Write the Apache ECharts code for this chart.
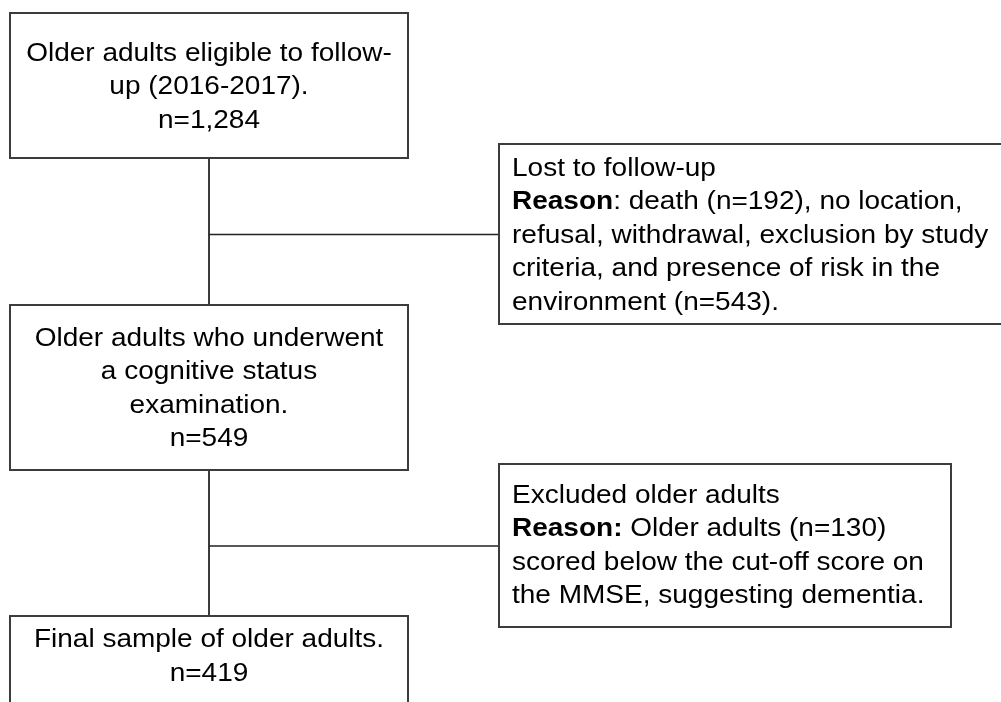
<!DOCTYPE html>
<html><head><meta charset="utf-8">
<script src="https://cdn.jsdelivr.net/npm/echarts@6/dist/echarts.min.js"></script>
<style>html,body{margin:0;padding:0;background:#fff}#c{width:1001px;height:702px}</style>
</head><body><div id="c"></div><script>
// ---- content ----
const stageLabels = [
  'Older adults eligible to follow-\nup (2016-2017).',
  'Older adults who underwent\na cognitive status\nexamination.',
  'Final sample of older adults.'
];
const stageCounts = [1284, 549, 419];
const exclusionTitles = ['Lost to follow-up', 'Excluded older adults'];
const exclusionLeads = ['Reason', 'Reason:'];
const exclusionDetails = [
  ': death (n=192), no location,\nrefusal, withdrawal, exclusion by study\ncriteria, and presence of risk in the\nenvironment (n=543).',
  ' Older adults (n=130)\nscored below the cut-off score on\nthe MMSE, suggesting dementia.'
];

// ---- layout (axis units = pixels) ----
const stageBoxes = [[10, 13, 408, 158], [10, 305, 408, 470], [10, 616, 408, 760]];
const stageTextY = [87.5, 389, 657];
const exclusionBoxes = [[499, 144, 1010, 324], [499, 464, 951, 627]];
const exclusionTextY = [236, 546];
const textLeftPad = 13;
const trunkX = 209;
const trunkSegments = [[158, 305], [470, 616]];
const branchY = [234.5, 546];

const FONT = '"Liberation Sans", Arial, Helvetica, sans-serif';
const FS = 25, LH = 33.4, SX = 1.12;
const STROKE = '#3c3c3c';

const boxData = [];
stageBoxes.forEach((b, i) => boxData.push([b[0], b[1], b[2], b[3], 0, i, stageTextY[i]]));
exclusionBoxes.forEach((b, i) => boxData.push([b[0], b[1], b[2], b[3], 1, i, exclusionTextY[i]]));

const lineData = [];
trunkSegments.forEach(s => lineData.push([trunkX, s[0], trunkX, s[1], 0]));
branchY.forEach((y, i) => lineData.push([trunkX, y, exclusionBoxes[i][0], y, 1]));

function renderBox(params, api) {
  const p1 = api.coord([api.value(0), api.value(1)]);
  const p2 = api.coord([api.value(2), api.value(3)]);
  const kind = api.value(4), idx = api.value(5);
  const ty = api.coord([0, api.value(6)])[1];
  const children = [{
    type: 'rect',
    shape: { x: p1[0], y: p1[1], width: p2[0] - p1[0], height: p2[1] - p1[1] },
    style: { fill: '#fff', stroke: STROKE, lineWidth: 2 }
  }];
  if (kind === 0) {
    children.push({
      type: 'text', x: (p1[0] + p2[0]) / 2, y: ty, scaleX: SX,
      style: {
        text: stageLabels[idx] + '\nn=' + stageCounts[idx].toLocaleString('en-US'),
        align: 'center', verticalAlign: 'middle',
        fontSize: FS, fontFamily: FONT, lineHeight: LH, fill: '#000'
      }
    });
  } else {
    children.push({
      type: 'text', x: p1[0] + textLeftPad, y: ty, scaleX: SX,
      style: {
        text: exclusionTitles[idx] + '\n{b|' + exclusionLeads[idx] + '}' + exclusionDetails[idx],
        align: 'left', verticalAlign: 'middle',
        fontSize: FS, fontFamily: FONT, lineHeight: LH, fill: '#000',
        rich: { b: { fontWeight: 'bold', fontSize: FS, fontFamily: FONT, lineHeight: LH, fill: '#000' } }
      }
    });
  }
  return { type: 'group', children };
}

function renderLine(params, api) {
  const a = api.coord([api.value(0), api.value(1)]);
  const b = api.coord([api.value(2), api.value(3)]);
  const horiz = api.value(4) === 1;
  return {
    type: 'line',
    shape: { x1: a[0], y1: a[1], x2: b[0], y2: b[1] },
    style: { stroke: horiz ? '#222' : STROKE, lineWidth: horiz ? 1.5 : 2 }
  };
}

const chart = echarts.init(document.getElementById('c'), null, { renderer: 'canvas' });
chart.setOption({
  backgroundColor: '#fff',
  animation: false,
  grid: { left: 0, top: 0, width: 1001, height: 702 },
  xAxis: { type: 'value', min: 0, max: 1001, show: false },
  yAxis: { type: 'value', min: 0, max: 702, inverse: true, show: false },
  series: [
    { type: 'custom', renderItem: renderLine, data: lineData, silent: true, clip: false },
    { type: 'custom', renderItem: renderBox, data: boxData, silent: true, clip: false }
  ]
});
</script></body></html>
